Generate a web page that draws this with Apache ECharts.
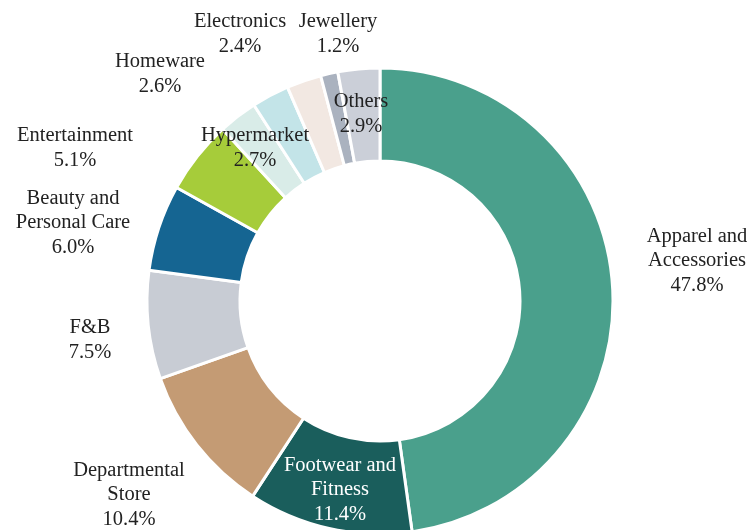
<!DOCTYPE html>
<html><head><meta charset="utf-8">
<script src="https://cdn.jsdelivr.net/npm/echarts@6/dist/echarts.min.js"></script>
<style>html,body{margin:0;padding:0;background:#fff}#c{width:750px;height:530px}</style>
</head><body><div id="c"></div>
<script>
const categories = ['Apparel and\nAccessories','Footwear and\nFitness','Departmental\nStore','F&B','Beauty and\nPersonal Care','Entertainment','Hypermarket','Homeware','Electronics','Jewellery','Others'];
const shares = [47.8, 11.4, 10.4, 7.5, 6.0, 5.1, 2.7, 2.6, 2.4, 1.2, 2.9];
const colors = ['#4aa08c','#1a5e5c','#c49b74','#c8ccd4','#156592','#a6cc3a','#d9ece8','#c3e4e8','#f2e8e2','#aab2bf','#cbcfd8'];
const labelPos = [[697,261],[340,490],[129,495],[90,340],[73,223],[75,148],[255,148],[160,74],[240,34],[338,34],[361,114]];

const chart = echarts.init(document.getElementById('c'));
chart.setOption({
  animation:false,
  series:[{
    type:'pie',
    center:[380,301],
    radius:[140,233],
    startAngle:90,
    clockwise:true,
    avoidLabelOverlap:false,
    itemStyle:{borderColor:'#fff',borderWidth:3},
    label:{show:true,position:'outside',fontFamily:'Liberation Serif',fontSize:20.5,color:'#222',lineHeight:24.5,align:'center',
      formatter:p=>p.name+'\n'+p.value.toFixed(1)+'%'},
    labelLine:{show:false},
    labelLayout:function(p){const q=labelPos[p.dataIndex];return {x:q[0],y:q[1],align:'center',verticalAlign:'middle'};},
    data:categories.map((c,i)=>({name:c,value:shares[i],itemStyle:{color:colors[i]},label:i===1?{color:'#fff'}:undefined}))
  }]
});
</script></body></html>
